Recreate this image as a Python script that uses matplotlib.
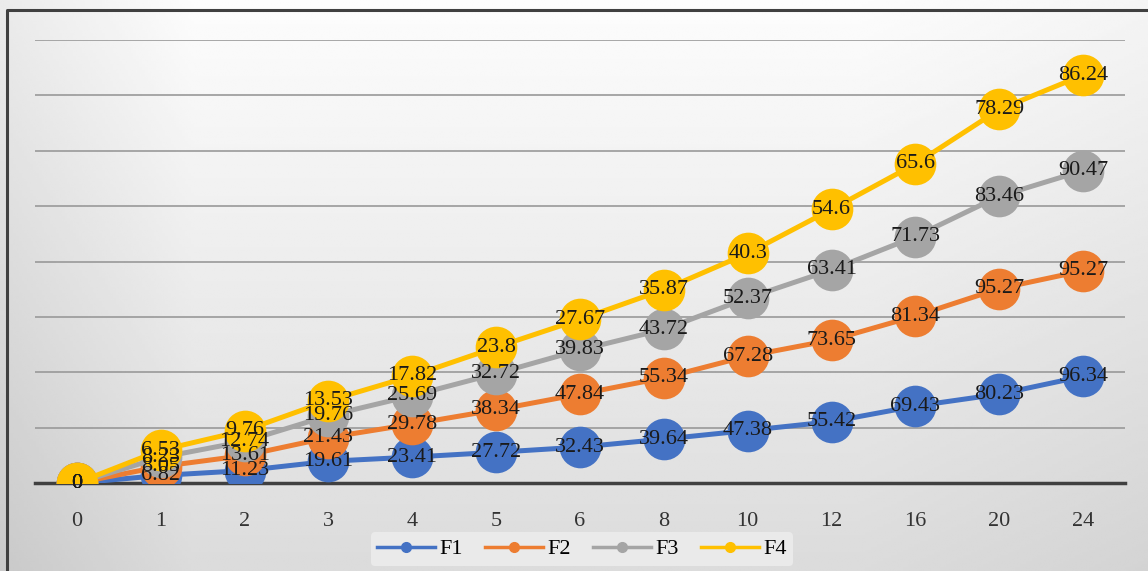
import matplotlib.pyplot as plt
import numpy as np

# Data (stacked line chart, labels show each series' own value)
hours = ['0', '1', '2', '3', '4', '5', '6', '8', '10', '12', '16', '20', '24']
f1 = [0, 6.82, 11.23, 19.61, 23.41, 27.72, 32.43, 39.64, 47.38, 55.42, 69.43, 80.23, 96.34]
f2 = [0, 8.05, 13.61, 21.43, 29.78, 38.34, 47.84, 55.34, 67.28, 73.65, 81.34, 95.27, 95.27]
f3 = [0, 8.23, 12.74, 19.76, 25.69, 32.72, 39.83, 43.72, 52.37, 63.41, 71.73, 83.46, 90.47]
f4 = [0, 6.53, 9.76, 13.53, 17.82, 23.8, 27.67, 35.87, 40.3, 54.6, 65.6, 78.29, 86.24]
series_names = ['F1', 'F2', 'F3', 'F4']
colors = ['#4472C4', '#ED7D31', '#A5A5A5', '#FFC000']

series = np.array([f1, f2, f3, f4])
stacked = np.cumsum(series, axis=0)
x = np.arange(len(hours))

plt.rcParams['font.family'] = ['Liberation Serif', 'DejaVu Serif']

fig = plt.figure(figsize=(11.48, 5.71), dpi=100)

# grey gradient background for the chart area
bg = fig.add_axes([0, 0, 1, 1], zorder=-10)
gy, gx = np.mgrid[0:1:200j, 0:1:400j]
shade = 0.99 - 0.13 * gy - 0.07 * np.clip(1 - gx * 6, 0, 1) - 0.03 * np.clip(gx * 4 - 3, 0, 1)
bg.imshow(shade, cmap='gray', vmin=0, vmax=1, aspect='auto', extent=[0, 1, 0, 1],
          interpolation='bilinear')
bg.plot([0.0065, 0.0065, 1.01], [-0.01, 0.982, 0.982], color='#404040', lw=2.2,
        transform=bg.transAxes, clip_on=False)
bg.set_xlim(0, 1)
bg.set_ylim(0, 1)
bg.axis('off')

ax = fig.add_axes([35 / 1148, 88 / 571, 1090 / 1148, 443 / 571])
ax.patch.set_alpha(0)

for i in range(4):
    ax.plot(x, stacked[i], color=colors[i], lw=3.6, marker='o', markersize=30,
            markeredgewidth=0, label=series_names[i], zorder=3 + i)
for i in range(4):
    for xi, yi, v in zip(x, stacked[i], series[i]):
        ax.text(xi, yi, f"{v:g}", ha='center', va='center', fontsize=16,
                color='#1a1a1a', zorder=10)

ax.set_xlim(-0.5, len(hours) - 0.5)
ax.set_ylim(0, 400)
ax.set_yticks(np.arange(0, 401, 50))
ax.yaxis.grid(True, color='#999999', lw=1.2)
ax.set_axisbelow(True)
ax.tick_params(axis='y', left=False, labelleft=False)
ax.set_xticks(x)
ax.set_xticklabels(hours, fontsize=16, color='#333333')
ax.tick_params(axis='x', length=0, pad=21)
for side in ['top', 'right', 'left']:
    ax.spines[side].set_visible(False)
ax.spines['bottom'].set_color('#404040')
ax.spines['bottom'].set_linewidth(2.5)
ax.spines['bottom'].set_zorder(2)

handles = [plt.Line2D([], [], color=c, lw=2.5, marker='o', markersize=7) for c in colors]
leg = fig.legend(handles, series_names, loc='center', bbox_to_anchor=(582 / 1148, 1 - 549 / 571),
                 ncol=4, frameon=True, fontsize=16, handlelength=2.6, handletextpad=0.2,
                 columnspacing=1.0, borderpad=0.3)
leg.get_frame().set_facecolor('#ececec')
leg.get_frame().set_edgecolor('none')
leg.get_frame().set_alpha(0.9)

fig.savefig('out.png', dpi=100)
